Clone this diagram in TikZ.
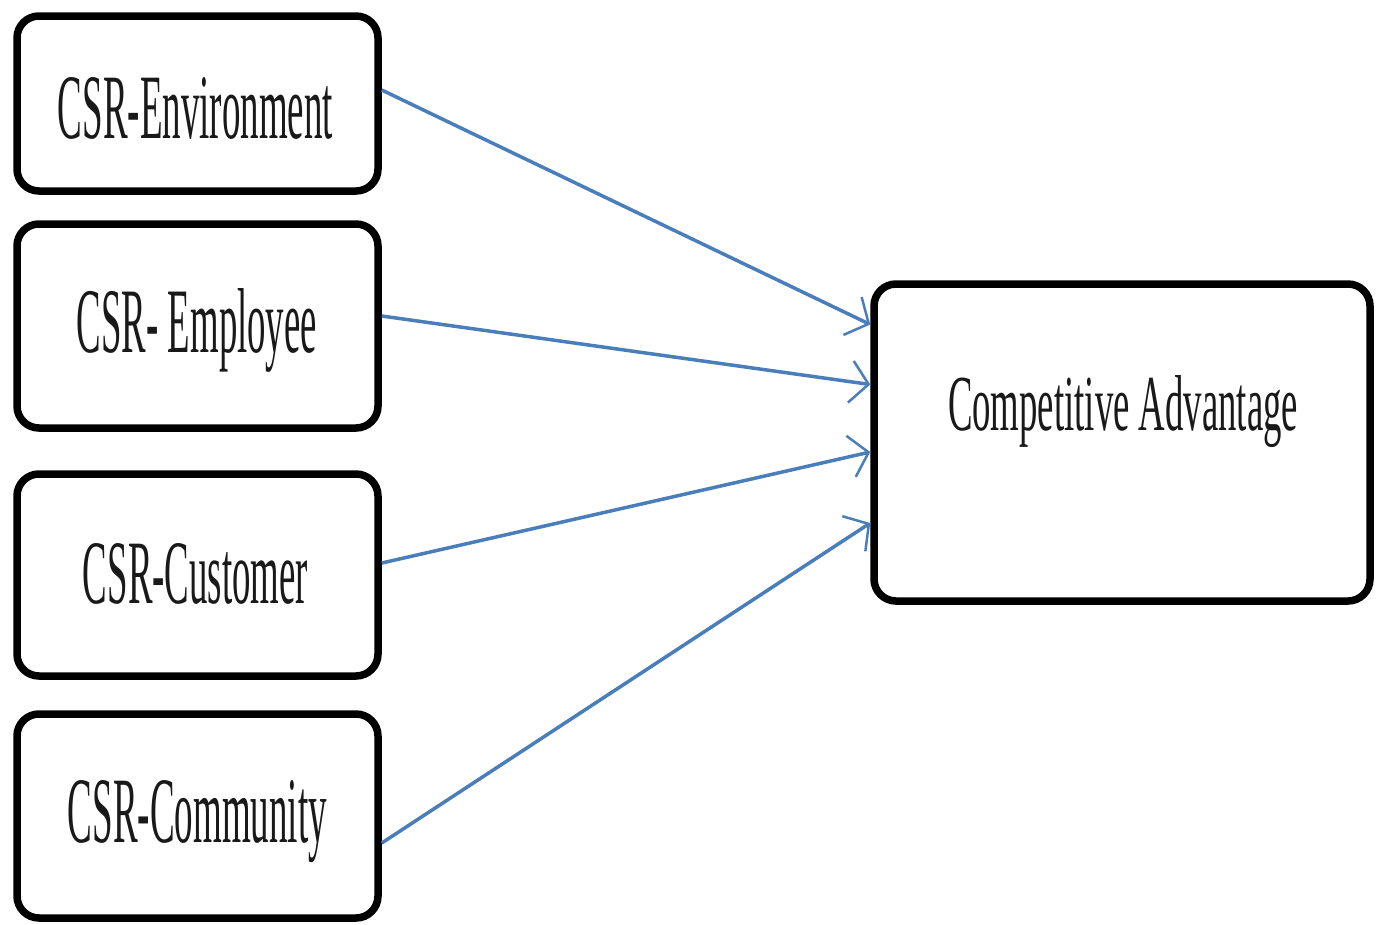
\documentclass[tikz,border=0pt]{standalone}
\usepackage{fontspec}
\setmainfont{Liberation Serif}
\usetikzlibrary{arrows.meta,calc}
\begin{document}
\begin{tikzpicture}[x=1pt,y=-1pt,
  box/.style={draw=black,line width=7.5pt,rounded corners=22pt,fill=white,inner sep=0pt},
  lbl/.style={anchor=base,inner sep=0pt,text=black!90},
  link/.style={draw=arrowblue,line width=3.5pt,-{Straight Barb[length=18pt,width=42pt,line width=2.5pt]}}]
\definecolor{arrowblue}{HTML}{4A7EBB}
\useasboundingbox (0,0) rectangle (1380,924);
\fill[white] (0,0) rectangle (1380,924);
% boxes
\node[box,minimum width=361pt,minimum height=175pt] (e1) at (197.5,103.5) {};
\node[box,minimum width=361pt,minimum height=204pt] (e2) at (197.5,326) {};
\node[box,minimum width=361pt,minimum height=202pt] (e3) at (197.5,575) {};
\node[box,minimum width=361pt,minimum height=204pt] (e4) at (197.5,816) {};
\node[box,minimum width=496pt,minimum height=317pt] (ca) at (1122,442.5) {};
% labels
\node[lbl] (t1) at (195.5,138) {\resizebox{275pt}{61pt}{CSR-Environment}};
\node[lbl] (t2) at (197,352) {\resizebox{240pt}{64pt}{CSR- Employee}};
\node[lbl] (t3) at (195.5,603) {\resizebox{225pt}{60pt}{CSR-Customer}};
\node[lbl] (t4) at (197.5,842) {\resizebox{259pt}{62pt}{CSR-Community}};
\node[lbl] (t5) at (1123,430) {\resizebox{350pt}{55pt}{Competitive Advantage}};
% connectors
\draw[link] ($(e1.east)+(0,-13.5)$) -- ($(ca.west)+(0,-118)$);
\draw[link] ($(e2.east)+(0,-10)$) -- ($(ca.west)+(0,-58)$);
\draw[link] ($(e3.east)+(0,-12)$) -- ($(ca.west)+(0,9.5)$);
\draw[link] ($(e4.east)+(0,27)$) -- ($(ca.west)+(0,80.5)$);
\end{tikzpicture}
\end{document}
